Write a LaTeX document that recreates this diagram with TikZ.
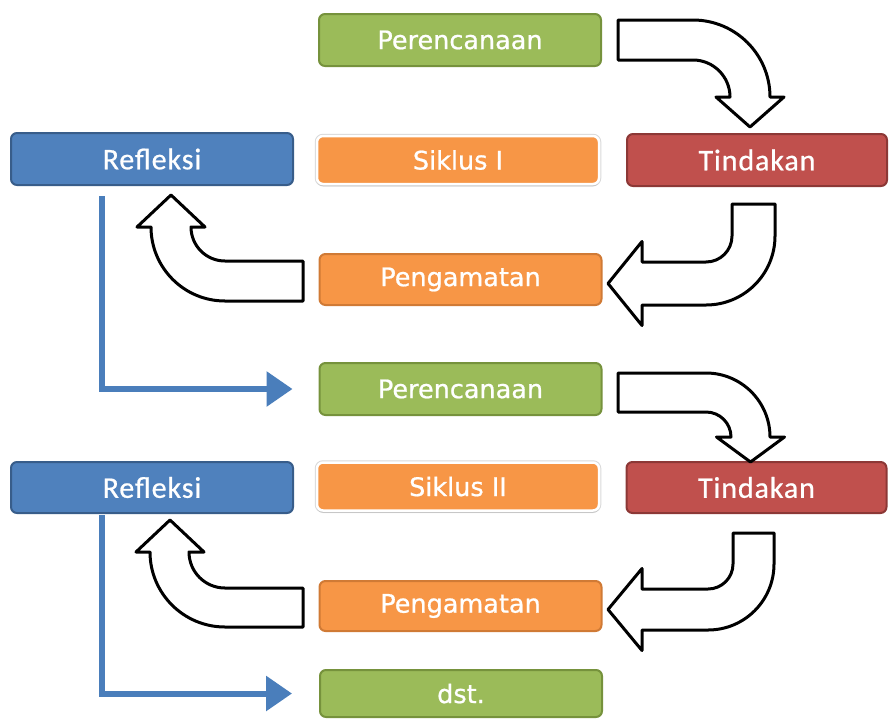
\documentclass[tikz,border=0pt]{standalone}
\usepackage{fontspec}
\setmainfont{DejaVu Sans}
\newfontfamily\vfont{DejaVu Sans}
\newfontfamily\cfont{Carlito}[LetterSpace=3]
\usetikzlibrary{arrows.meta,shadows,calc}
\definecolor{gfill}{HTML}{9BBB59}
\definecolor{gdraw}{HTML}{76923C}
\definecolor{ofill}{HTML}{F79646}
\definecolor{odraw}{HTML}{D07A35}
\definecolor{bfill}{HTML}{4F81BD}
\definecolor{bdraw}{HTML}{385D8A}
\definecolor{rfill}{HTML}{C0504D}
\definecolor{rdraw}{HTML}{8C3836}
\definecolor{conn}{HTML}{4A7EBB}
\begin{document}
\begin{tikzpicture}[x=1pt,y=-1pt,
  box/.style={rounded corners=6pt, line width=2pt, text=white,
    inner sep=0pt, minimum width=282pt, minimum height=52pt,
    execute at begin node={\special{pdf:literal direct 0.2 w 2 Tr}},
    execute at end node={\special{pdf:literal direct 0 Tr}}},
  vtext/.style={font=\vfont\fontsize{25.5}{30}\selectfont},
  ctext/.style={font=\cfont\fontsize{30}{34}\selectfont},
  greenbox/.style={box, vtext, fill=gfill, draw=gdraw},
  orangebox/.style={box, vtext, fill=ofill, draw=odraw},
  bluebox/.style={box, ctext, fill=bfill, draw=bdraw},
  redbox/.style={box, ctext, fill=rfill, draw=rdraw, minimum width=260pt},
  cyclebox/.style={box, vtext, fill=ofill, draw=white, line width=2.5pt,
    minimum width=282pt, minimum height=48pt,
    preaction={draw=black!15, line width=4.5pt},
    drop shadow={opacity=0.2, shadow xshift=0pt, shadow yshift=-2.5pt}},
  flow/.style={draw=conn, line width=6pt, line cap=butt,
    -{Triangle[length=26pt,width=34pt]}},
  blockarrow/.style={draw=black, line width=3pt, fill=white, line join=round}]
\useasboundingbox (0,0) rectangle (896,718);

% cycle I
\node[greenbox] (per1) at (460,40) {Perencanaan};
\node[cyclebox] (sik1) at (458,160) {Siklus I};
\node[redbox] (tin1) at (757,160) {Tindakan};
\node[bluebox] (ref1) at (152,159) {Refleksi};
\node[orangebox, minimum height=51pt] (pen1) at (460.5,279.5) {Pengamatan};

% cycle II
\node[greenbox] (per2) at (460.5,389) {Perencanaan};
\node[cyclebox] (sik2) at (458,486.5) {Siklus II};
\node[redbox, minimum height=51pt] (tin2) at (756.5,487.5) {Tindakan};
\node[bluebox, minimum height=51pt] (ref2) at (152,487.5) {Refleksi};
\node[orangebox, minimum height=50pt] (pen2) at (460.5,606) {Pengamatan};
\node[greenbox, minimum height=47pt] (dst) at (461,693.5) {dst.};

% blue connectors
\draw[flow] ($(ref1.south west)+(92,10)$) |- ([xshift=-26pt]per2.west);
\draw[flow] ($(ref2.south west)+(92,1)$) |- ([xshift=-27pt]dst.west);

% curved block arrows, cycle I
\draw[blockarrow] (618,20) -- (693,20) .. controls (735.5,20) and (770,54.5) .. (770,97)
  -- (784,97) -- (750,127) -- (716,97) -- (730,97)
  .. controls (730,76.6) and (713.4,60) .. (693,60) -- (618,60) -- cycle;
\draw[blockarrow] (732,204) -- (775,204) -- (775,236)
  .. controls (775,274.1) and (744.1,305) .. (706,305) -- (642,305) -- (642,325.5)
  -- (608,283.5) -- (642,241.5) -- (642,262) -- (706,262)
  .. controls (720.4,262) and (732,250.4) .. (732,236) -- cycle;
\draw[blockarrow] (303,261) -- (225,261) .. controls (206.2,261) and (191,245.8) .. (191,227)
  -- (205,227) -- (171,195) -- (137,227) -- (151,227)
  .. controls (151,267.9) and (184.1,301) .. (225,301) -- (303,301) -- cycle;

% curved block arrows, cycle II
\draw[blockarrow] (618,373) -- (706,373) .. controls (741.3,373) and (770,401.7) .. (770,437)
  -- (784.5,437) -- (750.5,462) -- (716.5,437) -- (731,437)
  .. controls (731,423.2) and (719.8,412) .. (706,412) -- (618,412) -- cycle;
\draw[blockarrow] (733,533) -- (774,533) -- (774,564)
  .. controls (774,600.5) and (744.5,630) .. (708,630) -- (642,630) -- (642,650.5)
  -- (608,609.5) -- (642,568.5) -- (642,589) -- (708,589)
  .. controls (721.8,589) and (733,577.8) .. (733,564) -- cycle;
\draw[blockarrow] (303,588) -- (225,588) .. controls (205.1,588) and (189,571.9) .. (189,552)
  -- (204,552) -- (170,520) -- (136,552) -- (150,552)
  .. controls (150,593.4) and (183.6,627) .. (225,627) -- (303,627) -- cycle;
\end{tikzpicture}
\end{document}
